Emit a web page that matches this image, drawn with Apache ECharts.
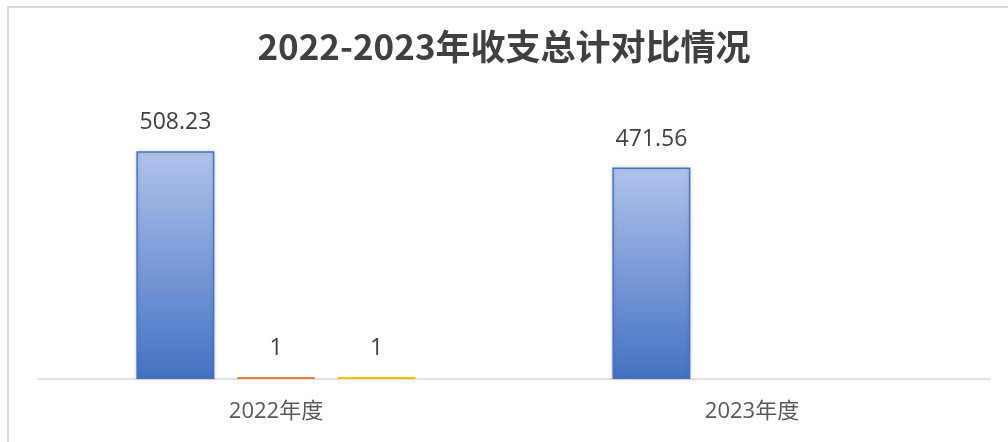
<!DOCTYPE html>
<html>
<head>
<meta charset="utf-8">
<script src="https://cdn.jsdelivr.net/npm/echarts@6/dist/echarts.min.js"></script>
<style>
html,body{margin:0;padding:0;background:#fff;}
#c{width:1008px;height:442px;}
</style>
</head>
<body>
<div id="c"></div>
<script>
const titleText = '2022-2023年收支总计对比情况';
const categories = ['2022年度', '2023年度'];
const seriesA = [508.23, 471.56];
const seriesB = [1, null];
const seriesC = [1, null];

const chart = echarts.init(document.getElementById('c'));
const labelFont = {show: true, position: 'top', distance: 17, color: '#404040', fontSize: 23, fontFamily: 'Open Sans, Noto Sans CJK SC, sans-serif'};
chart.setOption({
  animation: false,
  backgroundColor: '#fff',
  title: {
    text: titleText, left: 'center', top: 24,
    textStyle: {fontSize: 35, fontWeight: 'bold', color: '#404040', fontFamily: 'Noto Sans CJK SC, sans-serif'}
  },
  graphic: [{
    type: 'rect', silent: true, z: -1,
    shape: {x: 8, y: 7, width: 1100, height: 600},
    style: {fill: 'none', stroke: '#d9d9d9', lineWidth: 2}
  }],
  grid: {left: 38, right: 18, top: 110, bottom: 63},
  xAxis: {
    type: 'category', data: categories,
    axisLine: {lineStyle: {color: '#d9d9d9', width: 1.5}},
    axisTick: {show: false},
    axisLabel: {color: '#595959', fontSize: 22, margin: 22, fontFamily: 'Open Sans, Noto Sans CJK SC, sans-serif'}
  },
  yAxis: {type: 'value', min: 0, max: 600, show: false, splitLine: {show: false}},
  series: [
    {
      type: 'bar', data: seriesA, barWidth: 78, barGap: '29%',
      itemStyle: {
        color: new echarts.graphic.LinearGradient(0, 0, 0, 1, [
          {offset: 0, color: '#B0C3EA'}, {offset: 1, color: '#4472C4'}
        ]),
        borderColor: '#4472C4', borderWidth: 1.5,
        shadowColor: 'rgba(0,0,0,0.15)', shadowBlur: 4
      },
      label: labelFont
    },
    {
      type: 'bar', data: seriesB, barWidth: 78, barMinHeight: 2,
      itemStyle: {color: '#ED7D31', borderColor: '#ED7D31', borderWidth: 1},
      label: labelFont
    },
    {
      type: 'bar', data: seriesC, barWidth: 78, barMinHeight: 2,
      itemStyle: {color: '#FFC000', borderColor: '#FFC000', borderWidth: 1},
      label: labelFont
    }
  ]
});
</script>
</body>
</html>
